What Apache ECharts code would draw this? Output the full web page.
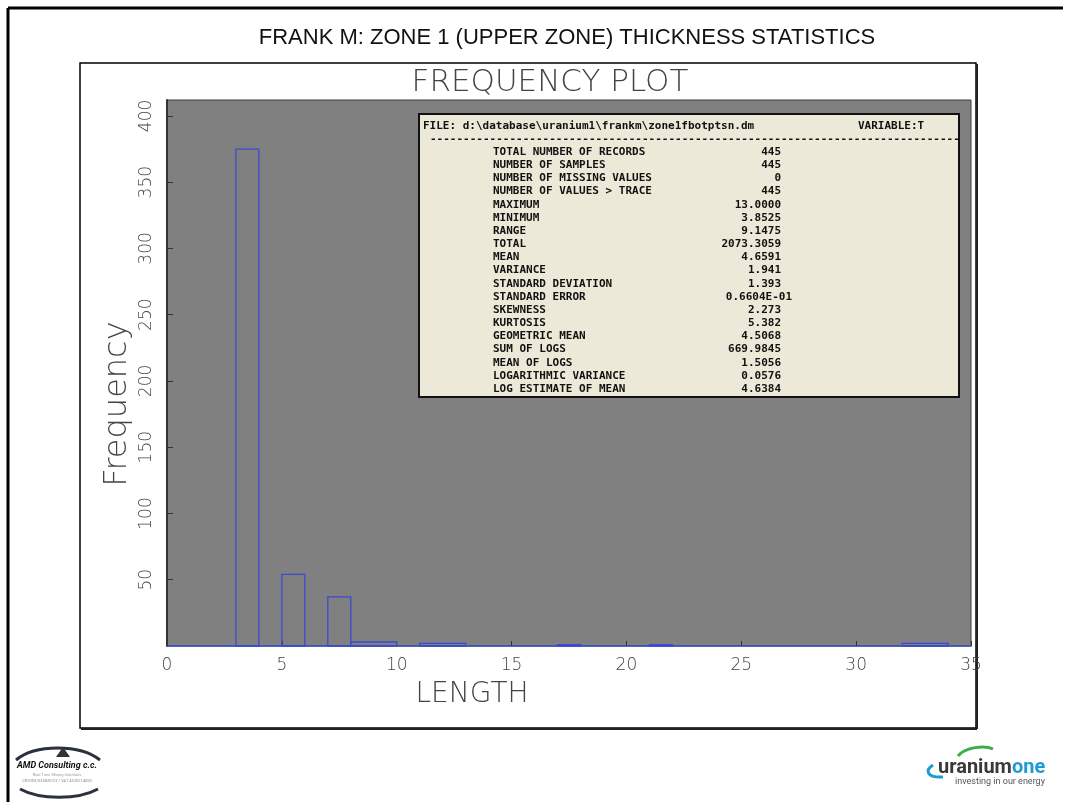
<!DOCTYPE html>
<html>
<head>
<meta charset="utf-8">
<script src="https://cdn.jsdelivr.net/npm/echarts@6/dist/echarts.min.js"></script>
<style>
html, body { margin: 0; padding: 0; background: #fff; }
#chart { width: 1065px; height: 802px; }
</style>
</head>
<body>
<div id="chart"></div>
<script>
// histogram bins (LENGTH) and their frequencies
const binStart = [3, 5, 7, 8, 11, 17, 21, 32];
const binEnd = [4, 6, 8, 10, 13, 18, 22, 34];
const counts = [375, 54, 37, 3, 2, 1, 1, 2];

const statLabels = [
    'TOTAL NUMBER OF RECORDS', 'NUMBER OF SAMPLES', 'NUMBER OF MISSING VALUES',
    'NUMBER OF VALUES > TRACE', 'MAXIMUM', 'MINIMUM', 'RANGE', 'TOTAL', 'MEAN',
    'VARIANCE', 'STANDARD DEVIATION', 'STANDARD ERROR', 'SKEWNESS', 'KURTOSIS',
    'GEOMETRIC MEAN', 'SUM OF LOGS', 'MEAN OF LOGS', 'LOGARITHMIC VARIANCE',
    'LOG ESTIMATE OF MEAN'
];
const statValues = [
    '445', '445', '0', '445', '13.0000', '3.8525', '9.1475', '2073.3059', '4.6591',
    '1.941', '1.393', '0.6604E-01', '2.273', '5.382', '4.5068', '669.9845', '1.5056',
    '0.0576', '4.6384'
];

const thin = 'DejaVu Sans';
const mono = 'DejaVu Sans Mono';

const chart = echarts.init(document.getElementById('chart'));

// stats panel drawn as graphic text
const statItems = [
    { type: 'rect', shape: { x: 419, y: 114, width: 540, height: 283 },
      style: { fill: '#ECE9D8', stroke: '#111', lineWidth: 2 } },
    { type: 'text', x: 423, y: 126, style: { text: 'FILE: d:\\database\\uranium1\\frankm\\zone1fbotptsn.dm',
      font: 'bold 11px ' + mono, fill: '#111', verticalAlign: 'middle' } },
    { type: 'text', x: 858, y: 126, style: { text: 'VARIABLE:T',
      font: 'bold 11px ' + mono, fill: '#111', verticalAlign: 'middle' } },
    { type: 'text', x: 430, y: 139, style: { text: '-'.repeat(80),
      font: 'bold 11px ' + mono, fill: '#111', verticalAlign: 'middle' } }
];
statLabels.forEach((label, i) => {
    const y = 152 + i * 13.17;
    statItems.push({ type: 'text', x: 493, y: y, style: { text: label,
        font: 'bold 11px ' + mono, fill: '#111', verticalAlign: 'middle' } });
    const v = statValues[i];
    statItems.push({ type: 'text', x: v.indexOf('E') >= 0 ? 792 : 781, y: y, style: { text: v,
        font: 'bold 11px ' + mono, fill: '#111', align: 'right', verticalAlign: 'middle' } });
});

const option = {
    animation: false,
    backgroundColor: '#fff',
    title: [
        {
            text: 'FRANK M: ZONE 1 (UPPER ZONE) THICKNESS STATISTICS',
            left: 562, top: 22, textAlign: 'center',
            textStyle: { fontFamily: "'Liberation Sans'", fontSize: 22, fontWeight: 'normal', color: '#111' }
        },
        {
            text: 'FREQUENCY PLOT',
            left: 545, top: 62, textAlign: 'center',
            textStyle: { fontFamily: thin, fontSize: 31, fontWeight: 200, color: '#444' }
        }
    ],
    grid: {
        left: 167, top: 100, width: 804, height: 546,
        show: true, backgroundColor: '#808080', borderColor: '#3a3a3a', borderWidth: 1
    },
    xAxis: {
        type: 'value', min: 0, max: 35, interval: 5,
        axisLine: { show: true, onZero: false, lineStyle: { color: '#3c4fd0', width: 1.5 } },
        axisTick: { show: true, inside: true, length: 5, lineStyle: { color: '#333' } },
        axisLabel: { margin: 11, fontFamily: thin, fontWeight: 200, fontSize: 17, color: '#444' },
        splitLine: { show: false }
    },
    yAxis: {
        type: 'value', min: 0, max: 412, interval: 50,
        axisLine: { show: true, lineStyle: { color: '#333', width: 2 } },
        axisTick: { show: true, inside: true, length: 6, lineStyle: { color: '#333' } },
        axisLabel: { rotate: 90, margin: 12, showMinLabel: false, showMaxLabel: false,
            fontFamily: thin, fontWeight: 200, fontSize: 17, color: '#444' },
        splitLine: { show: false }
    },
    series: [{
        type: 'custom',
        data: counts.map((c, i) => [binStart[i], binEnd[i], c]),
        renderItem: (params, api) => {
            const p0 = api.coord([api.value(0), api.value(2)]);
            const p1 = api.coord([api.value(1), 0]);
            return {
                type: 'rect',
                shape: { x: p0[0], y: p0[1], width: p1[0] - p0[0], height: p1[1] - p0[1] },
                style: { fill: 'none', stroke: '#3a4bd0', lineWidth: 1.3 }
            };
        }
    }],
    graphic: [
        // slide frame
        { type: 'line', z: -20, shape: { x1: 8, y1: 8, x2: 1063, y2: 8 }, style: { stroke: '#000', lineWidth: 3 } },
        { type: 'line', z: -20, shape: { x1: 8, y1: 8, x2: 8, y2: 802 }, style: { stroke: '#000', lineWidth: 3 } },
        // inner white box
        { type: 'rect', z: -10, shape: { x: 80, y: 63, width: 896, height: 665 },
          style: { fill: '#fff', stroke: '#000', lineWidth: 1.5 } },
        { type: 'line', z: -9, shape: { x1: 81, y1: 729, x2: 977, y2: 729 }, style: { stroke: '#222', lineWidth: 2 } },
        { type: 'line', z: -9, shape: { x1: 977, y1: 64, x2: 977, y2: 729 }, style: { stroke: '#222', lineWidth: 2 } },
        // axis names
        { type: 'text', x: 118, y: 404, rotation: Math.PI / 2,
          style: { text: 'Frequency', font: '200 32px ' + thin, fill: '#444', align: 'center', verticalAlign: 'middle' } },
        { type: 'text', x: 472, y: 695,
          style: { text: 'LENGTH', font: '200 28px ' + thin, fill: '#444', align: 'center', verticalAlign: 'middle' } },
        { type: 'group', z: 20, children: statItems },
        // AMD Consulting logo
        { type: 'bezierCurve', shape: { x1: 16, y1: 760, x2: 100, y2: 760, cpx1: 35, cpy1: 744, cpx2: 80, cpy2: 744 },
          style: { stroke: '#2b3140', lineWidth: 3, fill: 'none' } },
        { type: 'bezierCurve', shape: { x1: 20, y1: 789, x2: 98, y2: 789, cpx1: 40, cpy1: 800, cpx2: 78, cpy2: 800 },
          style: { stroke: '#2b3140', lineWidth: 3, fill: 'none' } },
        { type: 'polygon', shape: { points: [[56, 757], [63, 747], [70, 757]] }, style: { fill: '#333' } },
        { type: 'text', x: 57, y: 766, style: { text: 'AMD Consulting c.c.', font: 'italic bold 9px Roboto', fill: '#111', align: 'center', verticalAlign: 'middle' } },
        { type: 'text', x: 57, y: 775, style: { text: 'Real Time Mining Solutions', font: '4px Roboto', fill: '#a99', align: 'center', verticalAlign: 'middle' } },
        { type: 'text', x: 57, y: 781, style: { text: 'CK2003/035820/23 / VAT 4320214050', font: '4px Roboto', fill: '#888', align: 'center', verticalAlign: 'middle' } },
        // uranium one logo
        { type: 'bezierCurve', shape: { x1: 958, y1: 756, x2: 993, y2: 749, cpx1: 965, cpy1: 747, cpx2: 985, cpy2: 745 },
          style: { stroke: '#3aae4c', lineWidth: 3, fill: 'none' } },
        { type: 'bezierCurve', shape: { x1: 933, y1: 765, x2: 943, y2: 777, cpx1: 925, cpy1: 770, cpx2: 926, cpy2: 778 },
          style: { stroke: '#1e9ad6', lineWidth: 3, fill: 'none' } },
        { type: 'text', x: 938, y: 768, style: { text: 'uranium', font: 'bold 20px Roboto', fill: '#3a3a3a', verticalAlign: 'middle' } },
        { type: 'text', x: 1012, y: 768, style: { text: 'one', font: 'bold 20px Roboto', fill: '#1e9ad6', verticalAlign: 'middle' } },
        { type: 'text', x: 1000, y: 782, style: { text: 'investing in our energy', font: '9px Roboto', fill: '#555', align: 'center', verticalAlign: 'middle' } }
    ]
};

chart.setOption(option);
</script>
</body>
</html>
